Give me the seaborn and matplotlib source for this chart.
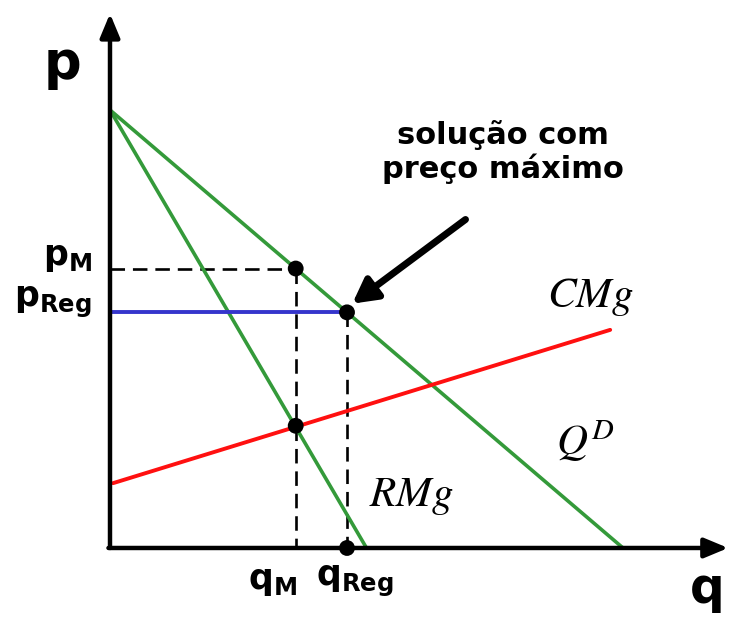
import matplotlib
matplotlib.use("Agg")
import matplotlib.pyplot as plt
import seaborn as sns

# demand, marginal revenue and marginal cost (q, p)
q_demand = [0, 100]
p_demand = [100, 0]
q_rmg = [0, 50]
p_rmg = [100, 0]
q_cmg = [0.6, 97.5]
p_cmg = [14.8, 49.8]

# key points
q_m, p_m = 36.2, 63.8
q_reg, p_reg = 46.2, 53.8
p_mc_at_qm = 27.9

GREEN = "#349a3a"
RED = "#ff1010"
BLUE = "#3535cc"

sns.set_theme(style="white")
fig = plt.figure(figsize=(7.29, 6.21), dpi=100)
ax = fig.add_axes([0, 0, 1, 1])
ax.set_xlim(-21.44, 120.66)
ax.set_ylim(-16.67, 125.11)
ax.axis("off")

sns.lineplot(x=q_demand, y=p_demand, color=GREEN, lw=2.6, ax=ax, zorder=2)
sns.lineplot(x=q_rmg, y=p_rmg, color=GREEN, lw=2.6, ax=ax, zorder=2)
sns.lineplot(x=q_cmg, y=p_cmg, color=RED, lw=2.8, ax=ax, zorder=2)
sns.lineplot(x=[0, q_reg], y=[p_reg, p_reg], color=BLUE, lw=2.8, ax=ax, zorder=2)

dash = dict(color="black", lw=1.9, dashes=(5.5, 3), estimator=None, sort=False, ax=ax, zorder=1)
sns.lineplot(x=[0, q_m], y=[p_m, p_m], **dash)
sns.lineplot(x=[q_m, q_m], y=[p_m, 0], **dash)
sns.lineplot(x=[q_reg, q_reg], y=[p_reg, 0], **dash)

# axes with arrows
arrow = dict(arrowstyle="-|>,head_length=1.2,head_width=0.5", color="black", lw=3.2, shrinkA=0, shrinkB=0)
ax.annotate("", xy=(0, 122), xytext=(0, 0), arrowprops=arrow, zorder=4)
ax.annotate("", xy=(120.5, 0), xytext=(-0.3, 0), arrowprops=arrow, zorder=4)

sns.scatterplot(x=[q_m, q_reg, q_m, q_reg], y=[p_m, p_reg, p_mc_at_qm, 0],
                color="black", s=130, edgecolor="none", ax=ax, zorder=5)

bold = dict(fontweight="bold", color="black", family="DejaVu Sans")
ax.text(-9.2, 110.5, "p", fontsize=38, ha="center", va="center", **bold)
ax.text(116.4, -12.6, "q", fontsize=35, ha="center", va="baseline", **bold)

sub = dict(color="black", math_fontfamily="dejavusans", ha="right", va="center")
ax.text(-3.5, 66.5, r"$\mathbf{p_{M}}$", fontsize=25, **sub)
ax.text(-3.5, 56.0, r"$\mathbf{p_{Reg}}$", fontsize=25, **sub)
sub.update(ha="center")
ax.text(31.7, -7.6, r"$\mathbf{q_{M}}$", fontsize=25, **sub)
ax.text(47.7, -7.6, r"$\mathbf{q_{Reg}}$", fontsize=25, **sub)

ax.text(76.6, 90.4, "solução com\npreço máximo", fontsize=22, ha="center", va="center",
        linespacing=1.15, **bold)
ax.annotate("", xy=(q_reg + 0.6, p_reg + 1.6), xytext=(69.3, 75.0),
            arrowprops=dict(arrowstyle="-|>,head_length=1.2,head_width=0.65",
                            color="black", lw=5, shrinkA=0, shrinkB=2), zorder=6)

serif = dict(color="black", math_fontfamily="stix", ha="center", va="center")
ax.text(93.7, 57.2, r"$CMg$", fontsize=31, **serif)
ax.text(92.6, 24.5, r"$Q^{D}$", fontsize=31, **serif)
ax.text(58.8, 11.8, r"$RMg$", fontsize=31, **serif)

fig.savefig("out.png", dpi=100)
